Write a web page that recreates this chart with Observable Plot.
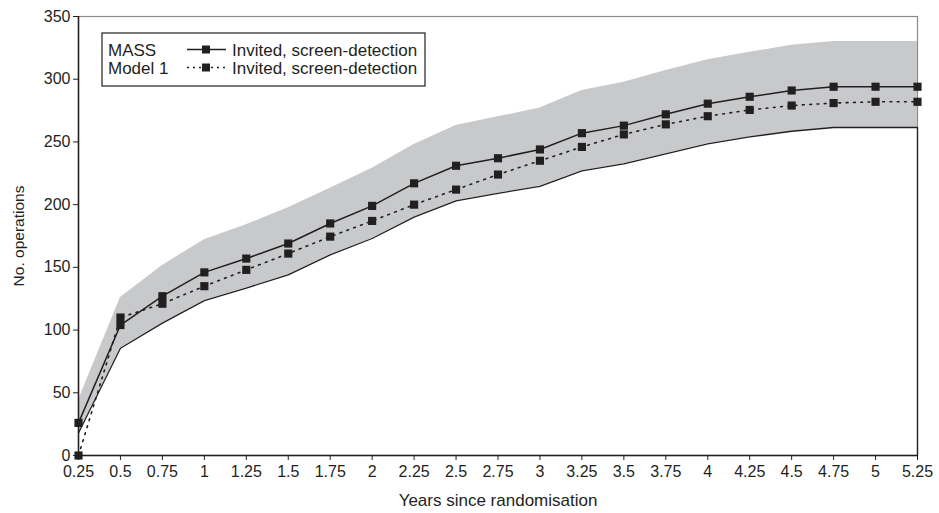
<!DOCTYPE html>
<html>
<head>
<meta charset="utf-8">
<script src="https://cdn.jsdelivr.net/npm/d3@7"></script>
<script src="https://cdn.jsdelivr.net/npm/@observablehq/plot@0.6"></script>
<style>
  html, body { margin: 0; padding: 0; background: #fff; }
  #chart { position: relative; width: 939px; height: 513px; }
  #chart svg { font-family: "Liberation Sans", Arial, sans-serif; }
  #chart g[aria-label="x-axis tick label"], #chart g[aria-label="x-axis tick label"] text,
  #chart g[aria-label="y-axis tick label"], #chart g[aria-label="y-axis tick label"] text { font-size: 16px; }
  #chart g[aria-label="x-axis label"], #chart g[aria-label="x-axis label"] text { font-size: 17px; }
  #chart g[aria-label="y-axis label"], #chart g[aria-label="y-axis label"] text { font-size: 15.5px; }
</style>
</head>
<body>
<div id="chart"></div>
<script>
// ---- data ----
const years = [0.25,0.5,0.75,1,1.25,1.5,1.75,2,2.25,2.5,2.75,3,3.25,3.5,3.75,4,4.25,4.5,4.75,5,5.25];
const xTickLabels = ["0.25","0.5","0.75","1","1.25","1.5","1.75","2","2.25","2.5","2.75","3","3.25","3.5","3.75","4","4.25","4.5","4.75","5","5.25"];
const yTicks = [0,50,100,150,200,250,300,350];
const massValues   = [26,104,127,146,157,169,185,199,217,231,237,244,257,263,272,280.5,286,291,294,294,294];
const model1Values = [0,110,121,135,148,161,174.5,187,200,212,224,235,246,256,264,270.5,275.5,279,281,282,282];
const upperBound   = [44,126,151.5,172,184,197.5,213,229,248,263,270,277,291,297.5,307,315.5,321.5,327,330,330,330];
const lowerBound   = [18,85.5,105.5,123.5,133.5,144,160,173,190,203,209,214.5,227,232.5,240.5,248.5,254,258.5,261.5,261.5,261.5];
const legendLabels = ["MASS", "Model 1"];
const seriesLabel = "Invited, screen-detection";

const ink = "#231f20";
const band = years.map((x, i) => ({x, lo: lowerBound[i], hi: upperBound[i]}));
const mass = years.map((x, i) => ({x, y: massValues[i]}));
const model1 = years.map((x, i) => ({x, y: model1Values[i]}));
// lower boundary closes down to the axis at the last year (as in the original area chart)
const lowerLine = years.map((x, i) => ({x, y: lowerBound[i]}))
  .concat([{x: years[years.length - 1], y: 0}]);

const plot = Plot.plot({
  width: 939,
  height: 513,
  marginLeft: 78,
  marginRight: 22,
  marginTop: 16,
  marginBottom: 58,
  style: {fontFamily: '"Liberation Sans", Arial, sans-serif', color: ink, background: "#fff"},
  x: {domain: [years[0], years[years.length - 1]]},
  y: {domain: [0, 350]},
  marks: [
    Plot.frame({stroke: "#8a8a8a", strokeWidth: 1.2}),
    Plot.areaY(band, {x: "x", y1: "lo", y2: "hi", fill: "#c8c9cb"}),
    Plot.line(lowerLine, {x: "x", y: "y", stroke: ink, strokeWidth: 1.3}),
    Plot.line(model1, {x: "x", y: "y", stroke: ink, strokeWidth: 1.6, strokeDasharray: "1.8,5.5"}),
    Plot.line(mass, {x: "x", y: "y", stroke: ink, strokeWidth: 1.5}),
    Plot.dot(model1, {x: "x", y: "y", symbol: "square", r: 4.6, fill: ink, stroke: "none"}),
    Plot.dot(mass, {x: "x", y: "y", symbol: "square", r: 4.6, fill: ink, stroke: "none"}),
    Plot.ruleY([0], {stroke: ink, strokeWidth: 1.5}),
    Plot.ruleX([years[0]], {stroke: ink, strokeWidth: 1.5}),
    Plot.axisX({
      ticks: years, tickFormat: (d, i) => xTickLabels[i], tickSize: 5, tickPadding: 5,
      label: "Years since randomisation", labelAnchor: "center",
      labelArrow: "none", labelOffset: 50
    }),
    Plot.axisY({
      ticks: yTicks, tickSize: 5, tickPadding: 3,
      label: "No. operations", labelAnchor: "center", labelArrow: "none", labelOffset: 66
    })
  ]
});
document.getElementById("chart").appendChild(plot);

// ---- legend drawn into the plot svg ----
const svg = d3.select(plot);
const g = svg.append("g").attr("font-size", 17).attr("fill", ink).attr("text-anchor", "start");
g.append("rect").attr("x", 102).attr("y", 33).attr("width", 323).attr("height", 53)
  .attr("fill", "#fff").attr("stroke", ink).attr("stroke-width", 1.2);
const rows = [
  {label: legendLabels[0], dash: null, y: 49.5},
  {label: legendLabels[1], dash: "2,4", y: 67.5}
];
rows.forEach(r => {
  g.append("text").attr("x", 108).attr("y", r.y + 6).attr("text-anchor", "start").text(r.label);
  g.append("line").attr("x1", 187).attr("x2", 226).attr("y1", r.y).attr("y2", r.y)
    .attr("stroke", ink).attr("stroke-width", 1.5).attr("stroke-dasharray", r.dash);
  g.append("rect").attr("x", 202).attr("y", r.y - 4).attr("width", 8).attr("height", 8).attr("fill", ink);
  g.append("text").attr("x", 232).attr("y", r.y + 6).attr("text-anchor", "start").text(seriesLabel);
});
</script>
</body>
</html>
